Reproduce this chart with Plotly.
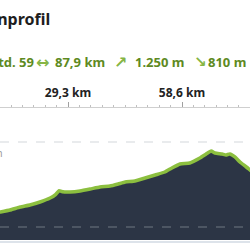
import plotly.graph_objects as go

# distance (km) and elevation (m)
dist_km = [10.5, 11.8, 14.4, 17.0, 19.5, 22.1, 24.7, 26.0, 27.0, 28.0, 29.8, 32.4, 35.0,
           37.5, 40.1, 42.2, 44.0, 46.5, 49.1, 51.7, 54.2, 56.0, 58.1, 60.6, 63.2,
           64.8, 66.1, 67.1, 68.9, 69.9, 70.9, 72.2, 73.5, 74.8, 76.1, 78.1]
elev_m = [365, 376, 400, 435, 459, 494, 541, 578, 628, 614, 612, 624, 647,
          671, 682, 706, 729, 741, 776, 812, 847, 894, 941, 953, 1012,
          1059, 1094, 1071, 1059, 1047, 1059, 1024, 965, 918, 871, 776]

tick_vals = [29.3, 58.6]
tick_text = ["29,3 km", "58,6 km"]
grid_vals = [200, 1200]
grid_label = "1.200 m"

title_text = "Höhenprofil"
TXT, ARR = "#5e8a22", "#86b545"
stats = [("Std. 59", TXT, "right", 36, "Noto Sans", 13),
         ("↔", ARR, "center", 42, "DejaVu Sans", 16),
         ("87,9 km", TXT, "right", 107, "Noto Sans", 13),
         ("↗", ARR, "center", 120, "DejaVu Sans", 16),
         ("1.250 m", TXT, "right", 186, "Noto Sans", 13),
         ("↘", ARR, "center", 200, "DejaVu Sans", 15),
         ("810 m", TXT, "right", 248, "Noto Sans", 13)]

W, H = 250, 250
T, B = 108, 10

fig = go.Figure()
fig.add_trace(go.Scatter(
    x=dist_km, y=elev_m, mode="lines", fill="tozeroy",
    fillcolor="#2c3545", line=dict(color="#8cbf3f", width=3.5, shape="spline", smoothing=0.4),
    hoverinfo="skip", showlegend=False))

for g in grid_vals:
    fig.add_shape(type="line", xref="paper", x0=0, x1=1, yref="y", y0=g, y1=g,
                  line=dict(color="rgba(175,180,186,0.35)", width=1.5, dash="dash"),
                  layer="above")

fig.add_shape(type="line", xref="paper", x0=0, x1=1, yref="paper",
              y0=-2 / (H - T - B), y1=-2 / (H - T - B),
              line=dict(color="#dde3ea", width=2))

fig.add_annotation(text=grid_label, xref="paper", x=0, xanchor="right", xshift=5,
                   yref="y", y=grid_vals[1], yanchor="top", yshift=-2,
                   showarrow=False, font=dict(size=10, color="#9a9a9a", family="Noto Sans"))

fig.add_annotation(text="<b>" + title_text + "</b>", xref="paper", x=52 / W, xanchor="right",
                   yref="paper", y=1, yanchor="middle", yshift=T - 19,
                   showarrow=False, font=dict(size=16, color="#1e1e1e", family="Noto Sans"))

for txt, col, anc, px, fam, sz in stats:
    fig.add_annotation(text="<b>" + txt + "</b>", xref="paper", x=px / W, xanchor=anc,
                       yref="paper", y=1, yanchor="middle", yshift=T - 62,
                       showarrow=False, font=dict(size=sz, color=col, family=fam))

fig.update_layout(
    width=W, height=H, margin=dict(l=0, r=0, t=T, b=B),
    paper_bgcolor="white", plot_bgcolor="white",
    xaxis=dict(range=[11.82, 76.08], side="top", showgrid=False, zeroline=False,
               showline=True, linecolor="#cfcfcf", linewidth=1,
               tickmode="array", tickvals=tick_vals, ticktext=tick_text,
               ticks="outside", ticklen=5, tickcolor="#a0a0a0", tickwidth=1,
               tickfont=dict(size=12, color="#222222", family="Noto Sans", weight="bold"),
               minor=dict(dtick=2.93, tick0=0, ticks="outside", ticklen=2, tickcolor="#c0c0c0")),
    yaxis=dict(range=[47, 1600], showgrid=False, zeroline=False, showticklabels=False,
               showline=False, ticks=""),
)

fig.write_html("out.html")
